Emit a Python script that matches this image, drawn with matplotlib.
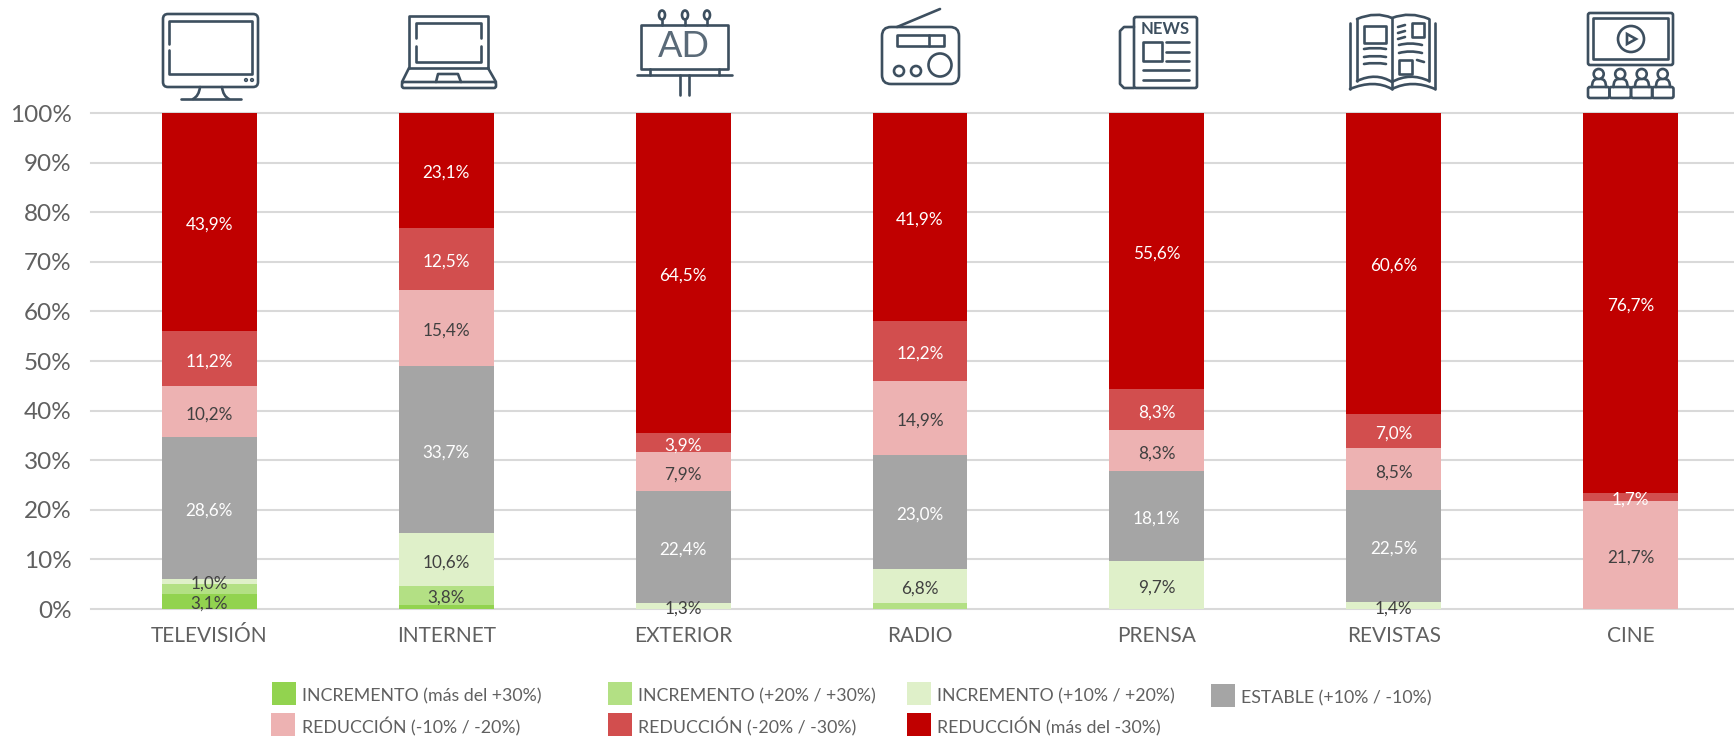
import matplotlib
matplotlib.use("Agg")
import matplotlib.pyplot as plt
import numpy as np
from matplotlib.patches import Circle, Ellipse, FancyBboxPatch, PathPatch, Polygon, Rectangle
from matplotlib.path import Path

plt.rcParams['font.family'] = ['Lato', 'DejaVu Sans']

categories = ['TELEVISIÓN', 'INTERNET', 'EXTERIOR', 'RADIO', 'PRENSA', 'REVISTAS', 'CINE']
inc_30 = [3.1, 0.9, 0, 0, 0, 0, 0]
inc_20 = [2.0, 3.8, 0, 1.2, 0, 0, 0]
inc_10 = [1.0, 10.6, 1.3, 6.8, 9.7, 1.4, 0]
estable = [28.6, 33.7, 22.4, 23.0, 18.1, 22.5, 0]
red_10 = [10.2, 15.4, 7.9, 14.9, 8.3, 8.5, 21.7]
red_20 = [11.2, 12.5, 3.9, 12.2, 8.3, 7.0, 1.7]
red_30 = [43.9, 23.1, 64.5, 41.9, 55.6, 60.6, 76.7]

series = [inc_30, inc_20, inc_10, estable, red_10, red_20, red_30]
names = ['INCREMENTO (más del +30%)', 'INCREMENTO (+20% / +30%)', 'INCREMENTO (+10% / +20%)',
         'ESTABLE (+10% / -10%)', 'REDUCCIÓN (-10% / -20%)', 'REDUCCIÓN (-20% / -30%)',
         'REDUCCIÓN (más del -30%)']
colors = ['#92d34f', '#b3e084', '#dff0c9', '#a5a5a5', '#edb2b2', '#d24e4e', '#c00000']
label_colors = ['#404040', '#404040', '#404040', 'white', '#404040', 'white', 'white']
# (series, category) that have no label in the original
unlabeled = {(0, 1), (1, 0), (1, 3)}

TEXT = '#606060'
ICON = '#3d4f5f'

fig = plt.figure(figsize=(17.34, 7.37), dpi=100)
ax = fig.add_axes([91 / 1734, 1 - 609 / 737, 1 - 91 / 1734, (609 - 113) / 737])

x = np.arange(len(categories))
bottom = np.zeros(len(categories))
for s, vals in enumerate(series):
    vals = np.array(vals)
    ax.bar(x, vals, 0.4, bottom=bottom, color=colors[s], zorder=3)
    for c, v in enumerate(vals):
        if v > 0 and (s, c) not in unlabeled:
            txt = f'{v:.1f}%'.replace('.', ',')
            ax.annotate(txt, (x[c], bottom[c] + v / 2), xytext=(0, -2), textcoords='offset points',
                        ha='center', va='center', fontsize=12.3, color=label_colors[s], zorder=4)
    bottom += vals

ax.set_xlim(-0.5, 6.5 - 15 / 236.8)
ax.set_ylim(0, 100)
ax.set_yticks(range(0, 101, 10))
ax.set_yticklabels([f'{v}%' for v in range(0, 101, 10)], fontsize=17.5, color=TEXT)
ax.set_xticks(x)
ax.set_xticklabels(categories, fontsize=15, color=TEXT)
ax.tick_params(axis='both', length=0)
ax.tick_params(axis='y', pad=14)
ax.tick_params(axis='x', pad=12.5)
ax.grid(axis='y', color='#d9d9d9', lw=1.5, zorder=0)
ax.set_axisbelow(True)
for sp in ax.spines.values():
    sp.set_visible(False)
for gl in ax.get_ygridlines():
    gl.set_clip_on(False)

# overlay in pixel coords for icons and the hand placed legend
ov = fig.add_axes([0, 0, 1, 1], zorder=5)
ov.set_xlim(0, 1734)
ov.set_ylim(737, 0)
ov.axis('off')

LW = 1.9


def line(xs, ys, lw=LW):
    ov.plot(xs, ys, color=ICON, lw=lw, solid_capstyle='round', solid_joinstyle='round')


def box(x0, y0, x1, y1, r=0, lw=LW):
    if r:
        ov.add_patch(FancyBboxPatch((x0 + r, y0 + r), x1 - x0 - 2 * r, y1 - y0 - 2 * r,
                                    boxstyle=f'round,pad={r},rounding_size={r}',
                                    fc='none', ec=ICON, lw=lw))
    else:
        ov.add_patch(Rectangle((x0, y0), x1 - x0, y1 - y0, fc='none', ec=ICON, lw=lw,
                               joinstyle='round'))


def circ(cx, cy, r, lw=LW):
    ov.add_patch(Circle((cx, cy), r, fc='none', ec=ICON, lw=lw))


def curve(p0, p1, p2, lw=LW):
    path = Path([p0, p1, p2], [Path.MOVETO, Path.CURVE3, Path.CURVE3])
    ov.add_patch(PathPatch(path, fc='none', ec=ICON, lw=lw, capstyle='round'))


# television
box(163, 14, 258, 87, 5)
line([169, 169, 252, 252, 169, 169], [44, 21, 21, 74, 74, 50])
circ(246, 80, 0.8)
circ(252, 80, 0.8)
curve((200, 87), (199, 96), (193, 99))
curve((222, 87), (223, 96), (229, 99))
line([181, 241], [99, 99])

# laptop
line([409, 409, 488, 488], [68, 16, 16, 68])
line([416, 416, 481, 481], [38, 23, 23, 38])
line([416, 416, 481, 481], [46, 62, 62, 46])
line([409, 488], [68, 68])
line([409, 402], [68, 82])
line([488, 496], [68, 82])
box(402, 82, 496, 88, 2)
line([436, 438, 458, 461], [82, 74, 74, 82])

# billboard
box(641, 25, 728, 69)
for bx in [662, 685, 707]:
    ov.add_patch(Ellipse((bx, 15), 6, 9, fc='none', ec=ICON, lw=LW))
    line([bx, bx], [20, 25])
ov.text(684, 46, 'AD', ha='center', va='center', fontsize=26, color='#5a6a78')
line([637, 732], [75, 75])
line([650, 650], [69, 75])
line([719, 719], [69, 75])
line([680, 680], [75, 95])
line([689, 689], [75, 95])

# radio
box(882, 27, 959, 84, 9)
line([897, 940], [27, 9])
box(897, 35, 944, 46)
line([929, 929], [35, 46])
circ(940, 65, 11.5)
circ(899, 71, 5)
circ(916, 71, 5)

# newspaper
box(1134, 17, 1197, 88, 2)
line([1134, 1124, 1120, 1120, 1124, 1134], [27, 27, 31, 84, 88, 88])
ov.text(1165, 29, 'NEWS', ha='center', va='center', fontsize=12, color=ICON, fontweight='bold',
        stretch='condensed')
box(1143, 42, 1162, 61)
for ly in [42, 52, 61]:
    line([1166, 1189], [ly, ly])
for ly in [70, 80]:
    line([1143, 1189], [ly, ly])

# magazine
line([1350, 1350], [23, 89])
line([1435, 1435], [23, 89])
line([1392, 1392], [18, 89])
line([1357, 1357], [19, 81])
line([1429, 1429], [19, 81])
curve((1357, 19), (1376, 11), (1392, 18))
curve((1392, 18), (1410, 11), (1429, 19))
curve((1357, 81), (1376, 72), (1392, 82))
curve((1392, 82), (1410, 72), (1429, 81))
curve((1350, 89), (1374, 79), (1392, 89))
curve((1392, 89), (1412, 79), (1435, 89))
box(1364, 26, 1386, 43)
for ly in [49, 57, 64]:
    curve((1364, ly), (1375, ly - 2), (1386, ly))
box(1412, 23, 1424, 37)
for ly in [26, 32, 38]:
    line([1398, 1405], [ly + 1, ly - 1])
for ly in [45, 53]:
    curve((1399, ly), (1410, ly - 3), (1422, ly))
box(1399, 60, 1412, 74)
line([1417, 1424], [60, 62])

# cinema
box(1588, 13, 1673, 65, 2)
box(1593, 18, 1668, 59)
circ(1631, 39, 13)
ov.add_patch(Polygon([(1627, 34), (1636, 39), (1627, 44)], closed=True, fc='none', ec=ICON, lw=LW))
for sx in [1588, 1609.5, 1631, 1652]:
    box(sx, 87, sx + 21.5, 98, 2)
    circ(sx + 10.7, 74, 5)
    curve((sx + 4, 87), (sx + 4, 79), (sx + 9, 79))
    curve((sx + 18, 87), (sx + 18, 79), (sx + 13, 79))

# legend
swatches = [(272, 682), (608, 682), (907, 682), (1211, 684), (271, 713), (608, 713), (907, 713)]
text_pos = [(302, 696), (638, 696), (937, 696), (1241, 698), (302, 727), (638, 727), (937, 727)]
for s, (sx, sy) in enumerate(swatches):
    ov.add_patch(Rectangle((sx, sy), 24, 22.5, fc=colors[s], ec='none'))
    ov.text(text_pos[s][0], text_pos[s][1], names[s], ha='left', va='center', fontsize=12.8, color=TEXT)

fig.savefig('out.png', dpi=100)
